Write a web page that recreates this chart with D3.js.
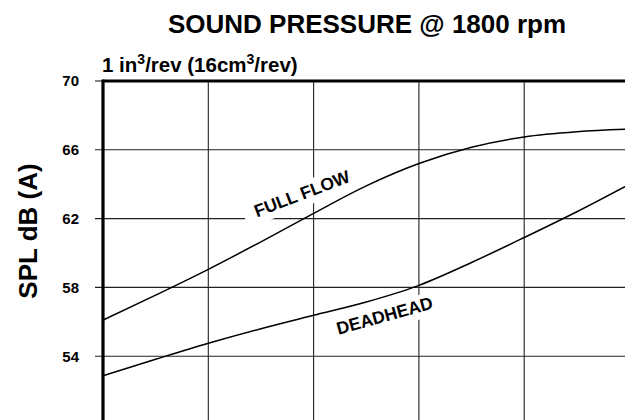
<!DOCTYPE html>
<html>
<head>
<meta charset="utf-8">
<script src="https://cdn.jsdelivr.net/npm/d3@7"></script>
<style>
    body { margin: 0; background: #fff; }
    text { font-family: "Liberation Sans", Arial, Helvetica, sans-serif; font-weight: bold; fill: #000; }
</style>
</head>
<body>
<div id="chart"></div>
<script>

// grid columns (no x labels visible in the crop)
let xSteps = [0, 0.5, 1, 1.5, 2, 2.5, 3, 3.5, 4, 4.5, 5];
let xGrid = [0, 1, 2, 3, 4, 5];

// SPL dB(A)
let fullFlow = [56.1, 57.55, 59.05, 60.65, 62.3, 63.9, 65.2, 66.15, 66.75, 67.05, 67.2];
let deadhead = [52.86, 53.82, 54.75, 55.6, 56.38, 57.15, 58.12, 59.45, 60.9, 62.4, 64.0];

let yTicks = [50, 54, 58, 62, 66, 70];

// curve labels, placed in data units
let curveLabels = [
    {text: "FULL FLOW", x: 1.91, y: 63.12, angle: -21},
    {text: "DEADHEAD", x: 2.69, y: 56.02, angle: -15.5}
];


class SplChart {

    constructor(parentElement) {
        this.parentElement = parentElement;
        this.initVis();
    }

    initVis() {
        let vis = this;

        vis.width = 625;
        vis.height = 420;

        vis.svg = d3.select("#" + vis.parentElement).append("svg")
            .attr("width", vis.width)
            .attr("height", vis.height);

        vis.x = d3.scaleLinear().domain([0, 5]).range([103, 629.5]);
        vis.y = d3.scaleLinear().domain([50, 70]).range([425, 81]);

        // title
        vis.svg.append("text")
            .attr("x", 367)
            .attr("y", 32.5)
            .attr("text-anchor", "middle")
            .style("font-size", "26px")
            .text("SOUND PRESSURE @ 1800 rpm");

        // subtitle with superscripts
        let sub = vis.svg.append("text")
            .attr("x", 102)
            .attr("y", 72)
            .style("font-size", "20.5px");
        sub.append("tspan").text("1 in");
        sub.append("tspan").attr("dy", -8).style("font-size", "14px").text("3");
        sub.append("tspan").attr("dy", 8).text("/rev (16cm");
        sub.append("tspan").attr("dy", -8).style("font-size", "14px").text("3");
        sub.append("tspan").attr("dy", 8).text("/rev)");

        // y axis title
        vis.svg.append("text")
            .attr("transform", "translate(36.5,231) rotate(-90)")
            .attr("text-anchor", "middle")
            .style("font-size", "26px")
            .text("SPL dB (A)");

        vis.updateVis();
    }

    updateVis() {
        let vis = this;

        // horizontal grid + outer ticks
        vis.svg.selectAll(".hgrid")
            .data(yTicks.filter(d => d < 70))
            .enter()
            .append("line")
            .attr("class", "hgrid")
            .attr("x1", vis.x(0) - 8)
            .attr("x2", vis.width)
            .attr("y1", d => vis.y(d))
            .attr("y2", d => vis.y(d))
            .attr("stroke", "#222")
            .attr("stroke-width", 1.1);

        vis.svg.append("line")
            .attr("x1", vis.x(0) - 8)
            .attr("x2", vis.x(0))
            .attr("y1", vis.y(70))
            .attr("y2", vis.y(70))
            .attr("stroke", "#222")
            .attr("stroke-width", 1.1);

        // vertical grid
        vis.svg.selectAll(".vgrid")
            .data(xGrid.slice(1))
            .enter()
            .append("line")
            .attr("class", "vgrid")
            .attr("x1", d => vis.x(d))
            .attr("x2", d => vis.x(d))
            .attr("y1", vis.y(70))
            .attr("y2", vis.height)
            .attr("stroke", "#222")
            .attr("stroke-width", 1.1);

        // tick labels
        vis.svg.selectAll(".ylab")
            .data(yTicks)
            .enter()
            .append("text")
            .attr("class", "ylab")
            .attr("x", 79)
            .attr("y", d => vis.y(d))
            .attr("dy", "0.36em")
            .attr("text-anchor", "end")
            .style("font-size", "15px")
            .text(d => d);

        // white patches behind the curve labels
        let lab = vis.svg.selectAll(".clabel")
            .data(curveLabels)
            .enter()
            .append("g")
            .attr("class", "clabel")
            .attr("transform", d => "translate(" + vis.x(d.x) + "," + vis.y(d.y) + ") rotate(" + d.angle + ")");

        lab.append("rect")
            .attr("x", -62)
            .attr("y", -17)
            .attr("width", 124)
            .attr("height", 24)
            .attr("fill", "#fff");

        // frame: thick top and left
        vis.svg.append("line")
            .attr("x1", vis.x(0))
            .attr("x2", vis.width)
            .attr("y1", vis.y(70))
            .attr("y2", vis.y(70))
            .attr("stroke", "#000")
            .attr("stroke-width", 3);

        vis.svg.append("line")
            .attr("x1", vis.x(0))
            .attr("x2", vis.x(0))
            .attr("y1", vis.y(70) - 1.5)
            .attr("y2", vis.height)
            .attr("stroke", "#000")
            .attr("stroke-width", 3.2);

        // curves
        let line = d3.line()
            .x((d, i) => vis.x(xSteps[i]))
            .y(d => vis.y(d))
            .curve(d3.curveMonotoneX);

        vis.svg.selectAll(".curve")
            .data([fullFlow, deadhead])
            .enter()
            .append("path")
            .attr("class", "curve")
            .attr("d", line)
            .attr("fill", "none")
            .attr("stroke", "#000")
            .attr("stroke-width", 1.5);

        lab.append("text")
            .attr("text-anchor", "middle")
            .style("font-size", "17.5px")
            .text(d => d.text);
    }
}

new SplChart("chart");

</script>
</body>
</html>
